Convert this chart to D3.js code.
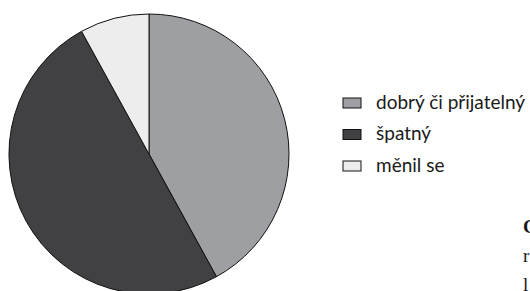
<!DOCTYPE html>
<html>
<head>
<meta charset="utf-8">
<script src="https://cdn.jsdelivr.net/npm/d3@7"></script>
<style>
  body { margin: 0; background: #fff; overflow: hidden; }
  .legend-label { font-family: Lato, "Open Sans", sans-serif; font-size: 19px; fill: #1a1a1a; }
  .side-text { font-family: "Liberation Serif", serif; font-size: 19px; fill: #1a1a1a; }
</style>
</head>
<body>
<div id="chart"></div>
<script>
// Data
const categories = ["dobrý či přijatelný", "špatný", "měnil se"];
const values = [42, 50, 8];
const colors = ["#9e9fa2", "#414143", "#ededed"];

// Fragments of text cut off at the right edge
const sideLines = ["C", "r", "l"];

const width = 530, height = 291;

const svg = d3.select("#chart")
    .append("svg")
    .attr("width", width)
    .attr("height", height);

// Pie
const radius = 140;
const cx = 149, cy = 154;

const pie = d3.pie().sort(null).value(d => d)(values);
const arc = d3.arc().innerRadius(0).outerRadius(radius);

const color = d3.scaleOrdinal().domain(categories).range(colors);

svg.append("g")
    .attr("transform", `translate(${cx},${cy})`)
    .selectAll("path")
    .data(pie)
    .enter().append("path")
    .attr("d", arc)
    .attr("fill", (d, i) => color(categories[i]))
    .attr("stroke", "#111")
    .attr("stroke-width", 1);

// Legend
const legendY = d3.scalePoint().domain(categories).range([98, 161]);

const legend = svg.append("g")
    .selectAll("g")
    .data(categories)
    .enter().append("g")
    .attr("transform", d => `translate(343, ${legendY(d)})`);

legend.append("rect")
    .attr("width", 18)
    .attr("height", 10)
    .attr("fill", d => color(d))
    .attr("stroke", "#111")
    .attr("stroke-width", 1);

legend.append("text")
    .attr("class", "legend-label")
    .attr("x", 33)
    .attr("y", 10.5)
    .text(d => d);

// Cut-off text on the right
svg.append("g")
    .selectAll("text")
    .data(sideLines)
    .enter().append("text")
    .attr("class", "side-text")
    .attr("x", 523)
    .attr("y", (d, i) => 232.5 + i * 29)
    .style("font-weight", (d, i) => i === 0 ? "bold" : "normal")
    .text(d => d);
</script>
</body>
</html>
